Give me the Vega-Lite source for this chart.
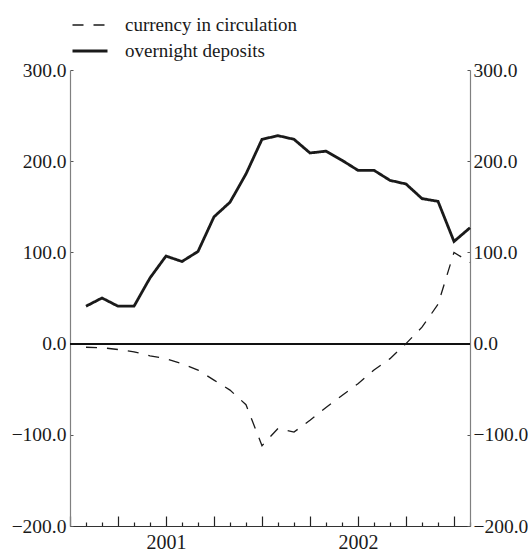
{
  "$schema": "https://vega.github.io/schema/vega-lite/v6.json",
  "width": 400,
  "height": 456,
  "autosize": "none",
  "padding": {"left": 70, "top": 70, "right": 58, "bottom": 25},
  "background": "white",
  "config": {
    "font": "Liberation Serif",
    "view": {"stroke": null},
    "axis": {"labelFont": "Liberation Serif", "labelFontSize": 20, "labelColor": "#1a1a1a", "grid": false, "title": null}
  },
  "data": {
    "values": [
      {"m": 1, "series": "overnight deposits", "value": 41},
      {"m": 2, "series": "overnight deposits", "value": 50},
      {"m": 3, "series": "overnight deposits", "value": 41},
      {"m": 4, "series": "overnight deposits", "value": 41},
      {"m": 5, "series": "overnight deposits", "value": 72},
      {"m": 6, "series": "overnight deposits", "value": 96},
      {"m": 7, "series": "overnight deposits", "value": 90},
      {"m": 8, "series": "overnight deposits", "value": 101},
      {"m": 9, "series": "overnight deposits", "value": 139},
      {"m": 10, "series": "overnight deposits", "value": 155},
      {"m": 11, "series": "overnight deposits", "value": 186},
      {"m": 12, "series": "overnight deposits", "value": 224},
      {"m": 13, "series": "overnight deposits", "value": 228},
      {"m": 14, "series": "overnight deposits", "value": 224},
      {"m": 15, "series": "overnight deposits", "value": 209},
      {"m": 16, "series": "overnight deposits", "value": 211},
      {"m": 17, "series": "overnight deposits", "value": 201},
      {"m": 18, "series": "overnight deposits", "value": 190},
      {"m": 19, "series": "overnight deposits", "value": 190},
      {"m": 20, "series": "overnight deposits", "value": 179},
      {"m": 21, "series": "overnight deposits", "value": 175},
      {"m": 22, "series": "overnight deposits", "value": 159},
      {"m": 23, "series": "overnight deposits", "value": 156},
      {"m": 24, "series": "overnight deposits", "value": 112},
      {"m": 25, "series": "overnight deposits", "value": 127},
      {"m": 1, "series": "currency in circulation", "value": -4},
      {"m": 2, "series": "currency in circulation", "value": -4.5},
      {"m": 3, "series": "currency in circulation", "value": -6.5},
      {"m": 4, "series": "currency in circulation", "value": -9},
      {"m": 5, "series": "currency in circulation", "value": -13.5},
      {"m": 6, "series": "currency in circulation", "value": -16.5},
      {"m": 7, "series": "currency in circulation", "value": -22},
      {"m": 8, "series": "currency in circulation", "value": -29},
      {"m": 9, "series": "currency in circulation", "value": -40},
      {"m": 10, "series": "currency in circulation", "value": -51},
      {"m": 11, "series": "currency in circulation", "value": -67},
      {"m": 12, "series": "currency in circulation", "value": -112},
      {"m": 13, "series": "currency in circulation", "value": -93},
      {"m": 14, "series": "currency in circulation", "value": -97},
      {"m": 15, "series": "currency in circulation", "value": -84},
      {"m": 16, "series": "currency in circulation", "value": -70},
      {"m": 17, "series": "currency in circulation", "value": -57},
      {"m": 18, "series": "currency in circulation", "value": -44},
      {"m": 19, "series": "currency in circulation", "value": -29},
      {"m": 20, "series": "currency in circulation", "value": -16.5},
      {"m": 21, "series": "currency in circulation", "value": 0},
      {"m": 22, "series": "currency in circulation", "value": 18},
      {"m": 23, "series": "currency in circulation", "value": 43},
      {"m": 24, "series": "currency in circulation", "value": 100},
      {"m": 25, "series": "currency in circulation", "value": 89}
    ]
  },
  "layer": [
    {
      "mark": {"type": "rule", "color": "#111111", "strokeWidth": 1.2},
      "encoding": {
        "y": {
          "datum": 0,
          "type": "quantitative",
          "scale": {"domain": [-200, 300], "nice": false},
          "axis": {
            "orient": "right",
            "values": [-200, -100, 0, 100, 200, 300],
            "format": ".1f",
            "domainColor": "#808080",
            "domainWidth": 1.2,
            "tickColor": "#555555",
            "tickSize": -3,
            "labelPadding": 6,
            "labelFontSize": 19.5
          }
        }
      }
    },
    {
      "mark": {"type": "line", "color": "#1a1a1a", "strokeCap": "butt"},
      "encoding": {
        "x": {
          "field": "m",
          "type": "quantitative",
          "scale": {"domain": [0, 25], "nice": false, "zero": false},
          "axis": {
            "values": [0, 1, 2, 3, 4, 5, 6, 7, 8, 9, 10, 11, 12, 13, 14, 15, 16, 17, 18, 19, 20, 21, 22, 23, 24, 25],
            "labelExpr": "datum.value == 6 ? '2001' : datum.value == 18 ? '2002' : ''",
            "domainColor": "#333333",
            "domainWidth": 1.2,
            "tickColor": "#222222",
            "tickWidth": 1.2,
            "tickSize": {"condition": {"test": "datum.value % 3 === 0", "value": -10}, "value": -4},
            "labelPadding": 16,
            "labelBaseline": "top"
          }
        },
        "y": {
          "field": "value",
          "type": "quantitative",
          "scale": {"domain": [-200, 300], "nice": false},
          "axis": {
            "orient": "left",
            "values": [-200, -100, 0, 100, 200, 300],
            "format": ".1f",
            "domainColor": "#808080",
            "domainWidth": 1.2,
            "tickColor": "#555555",
            "tickSize": -3,
            "labelPadding": 7,
            "labelFontSize": 19.5
          }
        },
        "strokeDash": {
          "field": "series",
          "type": "nominal",
          "scale": {"domain": ["currency in circulation", "overnight deposits"], "range": [[11, 10], [1, 0]]},
          "legend": {
            "title": null,
            "orient": "none",
            "legendX": 1,
            "legendY": -55,
            "symbolType": "stroke",
            "symbolSize": 1225,
            "symbolStrokeColor": "#1a1a1a",
            "labelFont": "Liberation Serif",
            "labelFontSize": 19,
            "labelColor": "#1a1a1a",
            "labelOffset": 16,
            "labelLimit": 400,
            "clipHeight": 20,
            "rowPadding": 6,
            "padding": 0
          }
        },
        "strokeWidth": {
          "field": "series",
          "type": "nominal",
          "scale": {"domain": ["currency in circulation", "overnight deposits"], "range": [1.3, 2.8]},
          "legend": {
            "title": null,
            "orient": "none",
            "legendX": 1,
            "legendY": -55,
            "symbolType": "stroke",
            "symbolSize": 1225,
            "symbolStrokeColor": "#1a1a1a",
            "labelFont": "Liberation Serif",
            "labelFontSize": 19,
            "labelColor": "#1a1a1a",
            "labelOffset": 16,
            "labelLimit": 400,
            "clipHeight": 20,
            "rowPadding": 6,
            "padding": 0
          }
        }
      }
    }
  ],
  "resolve": {"axis": {"y": "independent"}}
}
